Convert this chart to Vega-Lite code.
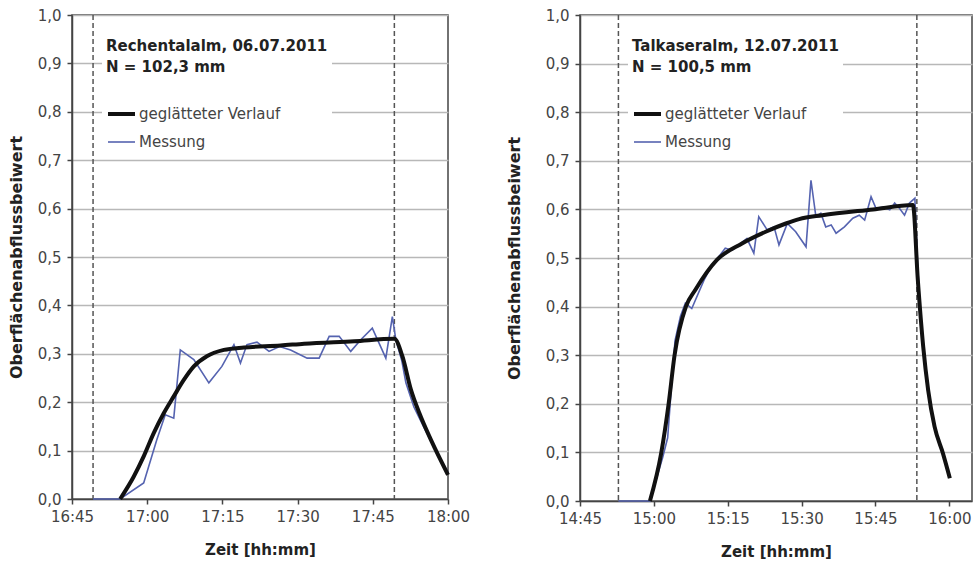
{
  "$schema": "https://vega.github.io/schema/vega-lite/v6.json",
  "background": "white",
  "padding": {"left": 7, "top": 7, "right": 2, "bottom": 2},
  "bounds": "flush",
  "spacing": 132,
  "datasets": {
    "rechental": [
      {"t": 1014.6, "v": 0, "series": "geglätteter Verlauf"},
      {"t": 1017.3, "v": 0.046, "series": "geglätteter Verlauf"},
      {"t": 1019.3, "v": 0.088, "series": "geglätteter Verlauf"},
      {"t": 1021.3, "v": 0.136, "series": "geglätteter Verlauf"},
      {"t": 1023.3, "v": 0.177, "series": "geglätteter Verlauf"},
      {"t": 1025.3, "v": 0.212, "series": "geglätteter Verlauf"},
      {"t": 1027.3, "v": 0.246, "series": "geglätteter Verlauf"},
      {"t": 1029.3, "v": 0.274, "series": "geglätteter Verlauf"},
      {"t": 1031.9, "v": 0.295, "series": "geglätteter Verlauf"},
      {"t": 1035.3, "v": 0.308, "series": "geglätteter Verlauf"},
      {"t": 1039.3, "v": 0.313, "series": "geglätteter Verlauf"},
      {"t": 1046.6, "v": 0.317, "series": "geglätteter Verlauf"},
      {"t": 1051.3, "v": 0.321, "series": "geglätteter Verlauf"},
      {"t": 1061.3, "v": 0.326, "series": "geglätteter Verlauf"},
      {"t": 1069.3, "v": 0.331, "series": "geglätteter Verlauf"},
      {"t": 1070.9, "v": 0.295, "series": "geglätteter Verlauf"},
      {"t": 1072.6, "v": 0.226, "series": "geglätteter Verlauf"},
      {"t": 1074.3, "v": 0.177, "series": "geglätteter Verlauf"},
      {"t": 1076.6, "v": 0.122, "series": "geglätteter Verlauf"},
      {"t": 1080, "v": 0.05, "series": "geglätteter Verlauf"},
      {"t": 1009.2, "v": 0, "series": "Messung"},
      {"t": 1014.6, "v": 0, "series": "Messung"},
      {"t": 1019.3, "v": 0.033, "series": "Messung"},
      {"t": 1021.9, "v": 0.122, "series": "Messung"},
      {"t": 1023.6, "v": 0.174, "series": "Messung"},
      {"t": 1025.3, "v": 0.167, "series": "Messung"},
      {"t": 1026.6, "v": 0.308, "series": "Messung"},
      {"t": 1029.3, "v": 0.288, "series": "Messung"},
      {"t": 1032.3, "v": 0.24, "series": "Messung"},
      {"t": 1034.9, "v": 0.274, "series": "Messung"},
      {"t": 1037.3, "v": 0.319, "series": "Messung"},
      {"t": 1038.6, "v": 0.281, "series": "Messung"},
      {"t": 1039.9, "v": 0.319, "series": "Messung"},
      {"t": 1041.9, "v": 0.324, "series": "Messung"},
      {"t": 1044.3, "v": 0.305, "series": "Messung"},
      {"t": 1046.4, "v": 0.315, "series": "Messung"},
      {"t": 1048.6, "v": 0.308, "series": "Messung"},
      {"t": 1051.9, "v": 0.291, "series": "Messung"},
      {"t": 1054.3, "v": 0.291, "series": "Messung"},
      {"t": 1056.3, "v": 0.336, "series": "Messung"},
      {"t": 1058.3, "v": 0.336, "series": "Messung"},
      {"t": 1060.6, "v": 0.305, "series": "Messung"},
      {"t": 1062.6, "v": 0.329, "series": "Messung"},
      {"t": 1064.9, "v": 0.353, "series": "Messung"},
      {"t": 1067.6, "v": 0.291, "series": "Messung"},
      {"t": 1068.9, "v": 0.377, "series": "Messung"},
      {"t": 1069.6, "v": 0.329, "series": "Messung"},
      {"t": 1070.8, "v": 0.285, "series": "Messung"},
      {"t": 1071.6, "v": 0.24, "series": "Messung"},
      {"t": 1073.2, "v": 0.19, "series": "Messung"},
      {"t": 1075.2, "v": 0.148, "series": "Messung"},
      {"t": 1077.6, "v": 0.1, "series": "Messung"},
      {"t": 1080, "v": 0.055, "series": "Messung"}
    ],
    "talkaser": [
      {"t": 899.2, "v": 0, "series": "geglätteter Verlauf"},
      {"t": 901.5, "v": 0.099, "series": "geglätteter Verlauf"},
      {"t": 903, "v": 0.2, "series": "geglätteter Verlauf"},
      {"t": 904.2, "v": 0.3, "series": "geglätteter Verlauf"},
      {"t": 906.5, "v": 0.4, "series": "geglätteter Verlauf"},
      {"t": 908.4, "v": 0.434, "series": "geglätteter Verlauf"},
      {"t": 912.8, "v": 0.496, "series": "geglätteter Verlauf"},
      {"t": 917.9, "v": 0.53, "series": "geglätteter Verlauf"},
      {"t": 922.7, "v": 0.554, "series": "geglätteter Verlauf"},
      {"t": 926.8, "v": 0.571, "series": "geglätteter Verlauf"},
      {"t": 929.5, "v": 0.58, "series": "geglätteter Verlauf"},
      {"t": 934.2, "v": 0.588, "series": "geglätteter Verlauf"},
      {"t": 944.5, "v": 0.6, "series": "geglätteter Verlauf"},
      {"t": 952.6, "v": 0.609, "series": "geglätteter Verlauf"},
      {"t": 953.6, "v": 0.455, "series": "geglätteter Verlauf"},
      {"t": 954.7, "v": 0.317, "series": "geglätteter Verlauf"},
      {"t": 955.7, "v": 0.228, "series": "geglätteter Verlauf"},
      {"t": 957, "v": 0.153, "series": "geglätteter Verlauf"},
      {"t": 958.7, "v": 0.098, "series": "geglätteter Verlauf"},
      {"t": 960.1, "v": 0.047, "series": "geglätteter Verlauf"},
      {"t": 892.8, "v": 0, "series": "Messung"},
      {"t": 899.2, "v": 0, "series": "Messung"},
      {"t": 901.8, "v": 0.09, "series": "Messung"},
      {"t": 902.8, "v": 0.13, "series": "Messung"},
      {"t": 903.6, "v": 0.24, "series": "Messung"},
      {"t": 904.3, "v": 0.33, "series": "Messung"},
      {"t": 905.4, "v": 0.38, "series": "Messung"},
      {"t": 906.4, "v": 0.407, "series": "Messung"},
      {"t": 907.7, "v": 0.396, "series": "Messung"},
      {"t": 910.2, "v": 0.455, "series": "Messung"},
      {"t": 911.5, "v": 0.48, "series": "Messung"},
      {"t": 913.2, "v": 0.503, "series": "Messung"},
      {"t": 914.5, "v": 0.52, "series": "Messung"},
      {"t": 915.9, "v": 0.516, "series": "Messung"},
      {"t": 917.2, "v": 0.527, "series": "Messung"},
      {"t": 918.9, "v": 0.54, "series": "Messung"},
      {"t": 920.3, "v": 0.51, "series": "Messung"},
      {"t": 921.3, "v": 0.585, "series": "Messung"},
      {"t": 923, "v": 0.558, "series": "Messung"},
      {"t": 924.4, "v": 0.564, "series": "Messung"},
      {"t": 925.4, "v": 0.527, "series": "Messung"},
      {"t": 927.1, "v": 0.571, "series": "Messung"},
      {"t": 928.8, "v": 0.554, "series": "Messung"},
      {"t": 930.9, "v": 0.523, "series": "Messung"},
      {"t": 931.9, "v": 0.66, "series": "Messung"},
      {"t": 932.9, "v": 0.585, "series": "Messung"},
      {"t": 933.9, "v": 0.592, "series": "Messung"},
      {"t": 934.9, "v": 0.564, "series": "Messung"},
      {"t": 936, "v": 0.568, "series": "Messung"},
      {"t": 937, "v": 0.551, "series": "Messung"},
      {"t": 938.7, "v": 0.564, "series": "Messung"},
      {"t": 940.4, "v": 0.582, "series": "Messung"},
      {"t": 941.7, "v": 0.588, "series": "Messung"},
      {"t": 942.8, "v": 0.578, "series": "Messung"},
      {"t": 944.1, "v": 0.626, "series": "Messung"},
      {"t": 945.1, "v": 0.602, "series": "Messung"},
      {"t": 946.5, "v": 0.605, "series": "Messung"},
      {"t": 947.9, "v": 0.599, "series": "Messung"},
      {"t": 948.9, "v": 0.613, "series": "Messung"},
      {"t": 949.9, "v": 0.602, "series": "Messung"},
      {"t": 950.9, "v": 0.588, "series": "Messung"},
      {"t": 951.9, "v": 0.613, "series": "Messung"},
      {"t": 953, "v": 0.623, "series": "Messung"},
      {"t": 953.5, "v": 0.5, "series": "Messung"},
      {"t": 954, "v": 0.4, "series": "Messung"},
      {"t": 954.8, "v": 0.3, "series": "Messung"},
      {"t": 955.5, "v": 0.235, "series": "Messung"},
      {"t": 956.5, "v": 0.18, "series": "Messung"},
      {"t": 957.5, "v": 0.13, "series": "Messung"},
      {"t": 958.7, "v": 0.1, "series": "Messung"},
      {"t": 960.1, "v": 0.05, "series": "Messung"}
    ],
    "rechental_marks": [{"t": 1009.2}, {"t": 1069.3}],
    "talkaser_marks": [{"t": 892.8}, {"t": 953.4}]
  },
  "hconcat": [
    {
      "width": 376,
      "height": 484,
      "encoding": {
        "x": {"field": "t", "type": "quantitative",
          "scale": {"domain": [1005, 1080], "nice": false, "zero": false},
          "axis": {"title": "Zeit [hh:mm]", "values": [1005, 1020, 1035, 1050, 1065, 1080],
            "labelExpr": "format(floor(datum.value / 60), '02d') + ':' + format(datum.value % 60, '02d')"}}
      },
      "layer": [
        {
          "data": {"name": "rechental_marks"},
          "mark": {"type": "rule", "color": "#555555", "strokeWidth": 1.5, "strokeDash": [5, 3]},
          "encoding": {}
        },
        {
          "data": {"name": "rechental"},
          "transform": [{"filter": "datum.series === 'Messung'"}],
          "mark": {"type": "line", "interpolate": "linear"},
          "encoding": {
            "y": {"field": "v", "type": "quantitative",
              "scale": {"domain": [0, 1], "nice": false},
              "axis": {"title": "Oberflächenabflussbeiwert", "titlePadding": 13, "values": [0, 0.1, 0.2, 0.3, 0.4, 0.5, 0.6, 0.7, 0.8, 0.9, 1],
                "labelExpr": "replace(format(datum.value, '.1f'), '.', ',')"}},
            "color": {"field": "series", "type": "nominal",
              "scale": {"domain": ["geglätteter Verlauf", "Messung"], "range": ["#111111", "#5563b0"]},
              "legend": {"title": ["Rechentalalm, 06.07.2011", "N = 102,3 mm"], "orient": "none", "legendX": 30, "legendY": 20}},
            "strokeWidth": {"field": "series", "type": "nominal",
              "scale": {"domain": ["geglätteter Verlauf", "Messung"], "range": [4, 1.6]},
              "legend": {"title": ["Rechentalalm, 06.07.2011", "N = 102,3 mm"], "orient": "none", "legendX": 30, "legendY": 20}}
          }
        },
        {
          "data": {"name": "rechental"},
          "transform": [{"filter": "datum.series === 'geglätteter Verlauf'"}],
          "mark": {"type": "line", "interpolate": "monotone"},
          "encoding": {
            "y": {"field": "v", "type": "quantitative"},
            "color": {"field": "series", "type": "nominal",
              "scale": {"domain": ["geglätteter Verlauf", "Messung"], "range": ["#111111", "#5563b0"]},
              "legend": {"title": ["Rechentalalm, 06.07.2011", "N = 102,3 mm"], "orient": "none", "legendX": 30, "legendY": 20}},
            "strokeWidth": {"field": "series", "type": "nominal",
              "scale": {"domain": ["geglätteter Verlauf", "Messung"], "range": [4, 1.6]},
              "legend": {"title": ["Rechentalalm, 06.07.2011", "N = 102,3 mm"], "orient": "none", "legendX": 30, "legendY": 20}}
          }
        }
      ]
    },
    {
      "width": 392,
      "height": 486,
      "encoding": {
        "x": {"field": "t", "type": "quantitative",
          "scale": {"domain": [885, 964.6], "nice": false, "zero": false},
          "axis": {"title": "Zeit [hh:mm]", "values": [885, 900, 915, 930, 945, 960],
            "labelExpr": "format(floor(datum.value / 60), '02d') + ':' + format(datum.value % 60, '02d')"}}
      },
      "layer": [
        {
          "data": {"name": "talkaser_marks"},
          "mark": {"type": "rule", "color": "#555555", "strokeWidth": 1.5, "strokeDash": [5, 3]},
          "encoding": {}
        },
        {
          "data": {"name": "talkaser"},
          "transform": [{"filter": "datum.series === 'Messung'"}],
          "mark": {"type": "line", "interpolate": "linear"},
          "encoding": {
            "y": {"field": "v", "type": "quantitative",
              "scale": {"domain": [0, 1], "nice": false},
              "axis": {"title": "Oberflächenabflussbeiwert", "titlePadding": 23, "values": [0, 0.1, 0.2, 0.3, 0.4, 0.5, 0.6, 0.7, 0.8, 0.9, 1],
                "labelExpr": "replace(format(datum.value, '.1f'), '.', ',')"}},
            "color": {"field": "series", "type": "nominal",
              "scale": {"domain": ["geglätteter Verlauf", "Messung"], "range": ["#111111", "#5563b0"]},
              "legend": {"title": ["Talkaseralm, 12.07.2011", "N = 100,5 mm"], "orient": "none", "legendX": 48, "legendY": 20}},
            "strokeWidth": {"field": "series", "type": "nominal",
              "scale": {"domain": ["geglätteter Verlauf", "Messung"], "range": [4, 1.6]},
              "legend": {"title": ["Talkaseralm, 12.07.2011", "N = 100,5 mm"], "orient": "none", "legendX": 48, "legendY": 20}}
          }
        },
        {
          "data": {"name": "talkaser"},
          "transform": [{"filter": "datum.series === 'geglätteter Verlauf'"}],
          "mark": {"type": "line", "interpolate": "monotone"},
          "encoding": {
            "y": {"field": "v", "type": "quantitative"},
            "color": {"field": "series", "type": "nominal",
              "scale": {"domain": ["geglätteter Verlauf", "Messung"], "range": ["#111111", "#5563b0"]},
              "legend": {"title": ["Talkaseralm, 12.07.2011", "N = 100,5 mm"], "orient": "none", "legendX": 48, "legendY": 20}},
            "strokeWidth": {"field": "series", "type": "nominal",
              "scale": {"domain": ["geglätteter Verlauf", "Messung"], "range": [4, 1.6]},
              "legend": {"title": ["Talkaseralm, 12.07.2011", "N = 100,5 mm"], "orient": "none", "legendX": 48, "legendY": 20}}
          }
        }
      ]
    }
  ],
  "resolve": {
    "scale": {"x": "independent", "y": "independent", "color": "independent", "strokeWidth": "independent"},
    "axis": {"x": "independent", "y": "independent"},
    "legend": {"color": "independent", "strokeWidth": "independent"}
  },
  "config": {
    "font": "DejaVu Sans",
    "view": {"stroke": "#444444", "strokeWidth": 1.5},
    "axis": {
      "labelFont": "DejaVu Sans", "labelFontSize": 15, "labelColor": "#444444",
      "titleFont": "DejaVu Sans", "titleFontSize": 15, "titleFontWeight": "bold", "titleColor": "#222222",
      "domainColor": "#444444", "domainWidth": 1.5, "tickColor": "#444444", "tickWidth": 1.5, "tickSize": 5
    },
    "axisX": {"grid": false, "labelPadding": 5, "titlePadding": 18, "labelFlush": false},
    "axisY": {"grid": true, "gridColor": "#b8b8b8", "gridWidth": 1.5, "labelPadding": 6, "titleFontSize": 16, "labelFlush": false},
    "legend": {
      "symbolType": "stroke", "symbolSize": 729, "fillColor": "white", "padding": 4,
      "titleFont": "DejaVu Sans", "titleFontSize": 15, "titleFontWeight": "bold", "titleColor": "#222222", "titleLineHeight": 21, "titlePadding": 23.5, "titleLimit": 400,
      "labelFont": "DejaVu Sans", "labelFontSize": 15, "labelColor": "#444444", "labelOffset": 2, "rowPadding": 5, "labelLimit": 400
    }
  }
}
